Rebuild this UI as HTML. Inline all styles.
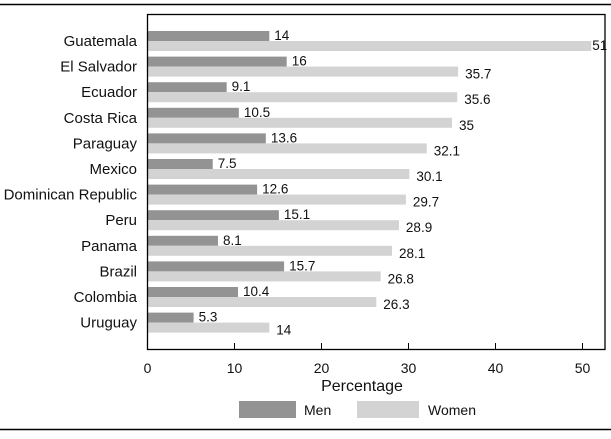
<!DOCTYPE html>
<html><head><meta charset="utf-8"><style>
body{margin:0;background:#fff;}
svg text{font-family:"Liberation Sans Narrow","Liberation Sans",sans-serif;fill:#111;}
</style></head><body>
<svg id="c" width="611" height="434" xmlns="http://www.w3.org/2000/svg">
<line x1="0" y1="4.5" x2="611" y2="4.5" stroke="#000" stroke-width="1.5"/>
<line x1="0" y1="429.5" x2="611" y2="429.5" stroke="#000" stroke-width="1.5"/>
<g id="bars"></g>
<rect x="147.5" y="14.5" width="457.5" height="335" fill="none" stroke="#000" stroke-width="1.3"/>
<g id="axis"></g>
<text x="362" y="391" font-size="16" text-anchor="middle">Percentage</text>
<rect x="239" y="401" width="57" height="17" fill="#939393"/>
<text x="304" y="415" font-size="14">Men</text>
<rect x="357" y="401" width="62" height="17" fill="#d3d3d3"/>
<text x="428" y="415" font-size="14">Women</text>
</svg>
<script>
const categories=["Guatemala","El Salvador","Ecuador","Costa Rica","Paraguay","Mexico","Dominican Republic","Peru","Panama","Brazil","Colombia","Uruguay"];
const men=[14,16,9.1,10.5,13.6,7.5,12.6,15.1,8.1,15.7,10.4,5.3];
const women=[51,35.7,35.6,35,32.1,30.1,29.7,28.9,28.1,26.8,26.3,14];
const ticks=[0,10,20,30,40,50];
const NS="http://www.w3.org/2000/svg";
const x0=147.5,ppu=8.7,y0=31,pitch=25.6,bh=10;
const xs=v=>x0+v*ppu;
const bars=document.getElementById('bars'),axis=document.getElementById('axis');
function mk(tag,attrs,parent){const e=document.createElementNS(NS,tag);for(const k in attrs)e.setAttribute(k,attrs[k]);parent.appendChild(e);return e;}
categories.forEach((c,i)=>{
  const y=y0+i*pitch;
  const l=mk('text',{x:137,y:y+15,'font-size':15,'text-anchor':'end'},bars);
  l.textContent=c;
  
  
  const rm=mk('rect',{x:x0,y:y,width:xs(men[i])-x0,height:bh,fill:'#939393'},bars);
  
  
  const rw=mk('rect',{x:x0,y:y+bh,width:xs(women[i])-x0,height:bh,fill:'#d3d3d3'},bars);
  
  
  const tm=mk('text',{x:xs(men[i])+5,y:y+9,'font-size':13.5},bars);
  tm.textContent=men[i];
  
  
  const tw=mk('text',{x:xs(women[i])+(women[i]>=50?1:7),y:y+bh+(women[i]>=50?9:12),'font-size':13.5},bars);
  tw.textContent=women[i];
  
  
});
ticks.forEach(t=>{
  const x=xs(t);
  if(t>0){const tk=mk('line',{x1:x,y1:343,x2:x,y2:349,stroke:'#000','stroke-width':1},axis);
  
  }
  const tl=mk('text',{x:x,y:373,'font-size':14,'text-anchor':'middle'},axis);
  tl.textContent=t;
  
  
});
</script>
</body></html>
